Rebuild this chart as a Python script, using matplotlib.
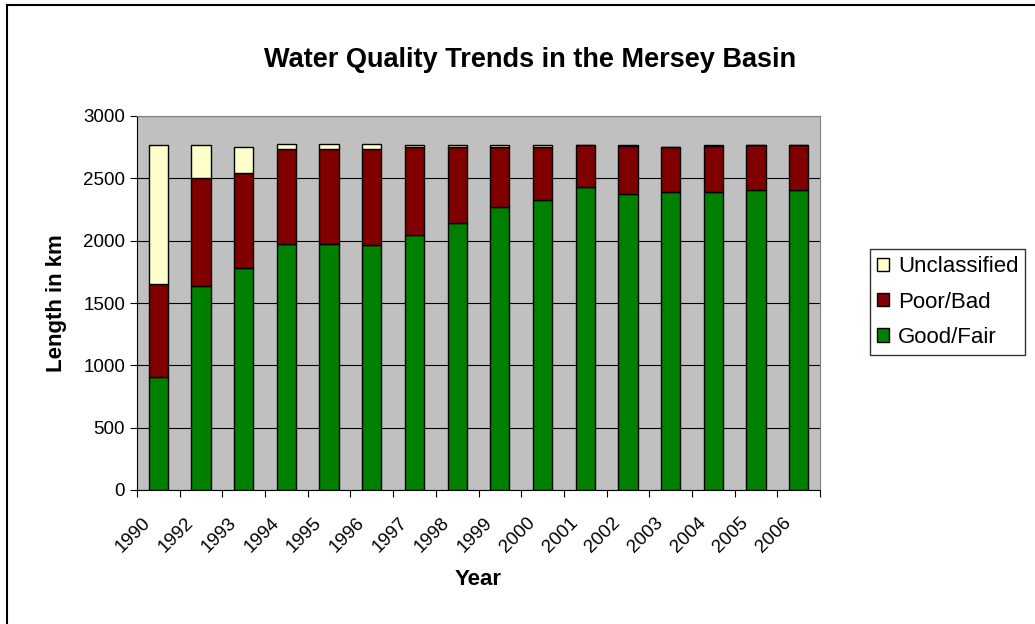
import matplotlib.pyplot as plt
import matplotlib.transforms as mtransforms
import numpy as np

plt.rcParams['font.family'] = ['Liberation Sans', 'DejaVu Sans']

years = ['1990', '1992', '1993', '1994', '1995', '1996', '1997', '1998',
         '1999', '2000', '2001', '2002', '2003', '2004', '2005', '2006']
good_fair = [909, 1634, 1783, 1973, 1976, 1963, 2045, 2144,
             2267, 2324, 2433, 2377, 2393, 2390, 2406, 2406]
poor_bad = [743, 866, 762, 765, 762, 772, 709, 610,
            484, 427, 337, 383, 362, 372, 364, 364]
unclassified = [1118, 270, 210, 35, 35, 38, 16, 16,
                19, 19, 0, 8, 0, 8, 0, 0]

fig = plt.figure(figsize=(10.35, 6.24), dpi=100)
ax = fig.add_axes([137 / 1035, 1 - 490 / 624, 683 / 1035, 374 / 624])
ax.set_facecolor('#C0C0C0')

x = np.arange(len(years))
good = np.array(good_fair)
poor = np.array(poor_bad)
uncl = np.array(unclassified)

w = 0.45
b1 = ax.bar(x, good, width=w, color='#008000', edgecolor='black', linewidth=1, label='Good/Fair', zorder=3)
b2 = ax.bar(x, poor, width=w, bottom=good, color='#800000', edgecolor='black', linewidth=1, label='Poor/Bad', zorder=3)
b3 = ax.bar(x, uncl, width=w, bottom=good + poor, color='#FFFFCC', edgecolor='black', linewidth=1, label='Unclassified', zorder=3)

ax.set_xlim(-0.5, len(years) - 0.5)
ax.set_ylim(0, 3000)
ax.set_yticks(range(0, 3001, 500))
ax.yaxis.grid(True, color='black', linewidth=0.8, zorder=1)
ax.set_axisbelow(True)

# ticks at category boundaries, labels at centres
ax.set_xticks(np.arange(-0.5, len(years), 1))
ax.set_xticklabels([])
ax.set_xticks(x, minor=True)
ax.set_xticklabels(years, minor=True, rotation=45, ha='right', va='center',
                   rotation_mode='anchor', fontsize=13.5)
ax.tick_params(axis='x', which='minor', length=0, pad=22)
ax.tick_params(axis='x', which='major', direction='out', length=5, color='black')
ax.tick_params(axis='y', direction='out', length=5, labelsize=13.5)

shift = mtransforms.ScaledTranslation(-0.10, 0, fig.dpi_scale_trans)
for lbl in ax.get_xticklabels(minor=True):
    lbl.set_transform(lbl.get_transform() + shift)

for side in ['top', 'right']:
    ax.spines[side].set_color('#808080')
for side in ['left', 'bottom']:
    ax.spines[side].set_color('black')

ax.set_ylabel('Length in km', fontsize=16, fontweight='bold', labelpad=12)
ax.set_xlabel('Year', fontsize=16, fontweight='bold', labelpad=9)
fig.text(0.512, 0.904, 'Water Quality Trends in the Mersey Basin',
         ha='center', va='center', fontsize=19.5, fontweight='bold')

leg = ax.legend(handles=[b3, b2, b1], loc='center left',
                bbox_to_anchor=(870 / 1035, 1 - 302 / 624), bbox_transform=fig.transFigure,
                fontsize=16, frameon=True, fancybox=False, edgecolor='black',
                handlelength=0.55, handleheight=0.55, handletextpad=0.4,
                borderpad=0.3, labelspacing=0.65, borderaxespad=0)
leg.get_frame().set_linewidth(1)

# outer chart border (left and top visible)
fig.add_artist(plt.Line2D([7 / 1035, 7 / 1035], [0, 1 - 5 / 624], transform=fig.transFigure, color='black', linewidth=1.5))
fig.add_artist(plt.Line2D([7 / 1035, 1], [1 - 5 / 624, 1 - 5 / 624], transform=fig.transFigure, color='black', linewidth=1.5))

fig.savefig('out.png', dpi=100)
